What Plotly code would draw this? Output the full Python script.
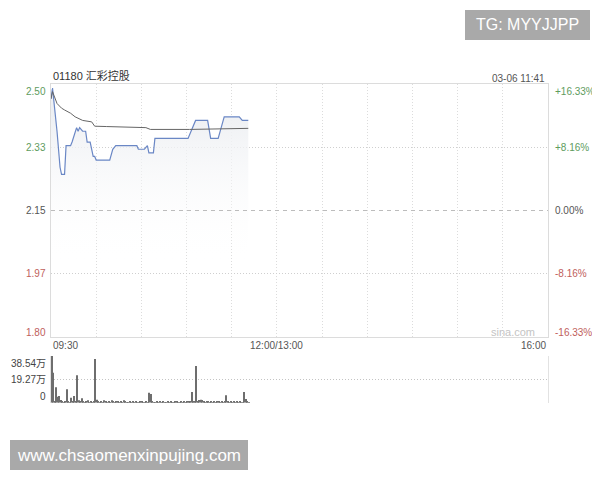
import plotly.graph_objects as go

# ---- data ----
code_name = "01180 汇彩控股"
stamp = "03-06 11:41"
prev_close = 2.15
pct_steps = [16.33, 8.16, 0.0, -8.16, -16.33]
price_labels = ["2.50", "2.33", "2.15", "1.97", "1.80"]
pct_labels = ["+16.33%", "+8.16%", "0.00%", "-8.16%", "-16.33%"]
time_labels = ["09:30", "12:00/13:00", "16:00"]

price_times = ["09:30", "09:31", "09:34", "09:36", "09:37", "09:39", "09:40", "09:43",
               "09:44", "09:46", "09:47", "09:48", "09:49", "09:51", "09:53", "09:54",
               "09:56", "09:58", "09:59", "10:00", "10:09", "10:11", "10:13", "10:27",
               "10:28", "10:32", "10:34", "10:35", "10:38", "10:39", "11:01", "11:06",
               "11:14", "11:16", "11:21", "11:23", "11:25", "11:35", "11:37", "11:41"]
price = [2.46, 2.49, 2.37, 2.27, 2.25, 2.25, 2.33, 2.33,
         2.34, 2.37, 2.38, 2.37, 2.38, 2.37, 2.37, 2.34,
         2.34, 2.30, 2.30, 2.29, 2.29, 2.32, 2.33, 2.33,
         2.32, 2.32, 2.33, 2.31, 2.31, 2.35, 2.35, 2.40,
         2.40, 2.35, 2.35, 2.38, 2.41, 2.41, 2.40, 2.40]

avg_times = ["09:30", "09:31", "09:34", "09:37", "09:39", "09:43", "09:46", "09:51",
             "09:57", "09:59", "10:07", "10:18", "10:33", "10:36", "11:02", "11:41"]
avg_price = [2.46, 2.48, 2.447, 2.434, 2.429, 2.42, 2.41, 2.40,
             2.396, 2.384, 2.383, 2.381, 2.380, 2.375, 2.375, 2.378]

# per-minute volume from 09:30, in 万 shares
volume = [38.54, 24.8, 0.8, 12.7, 5.0, 5.5, 2.2, 1.0, 0.5, 0.6,
          11.0, 0.8, 0.5, 4.0, 0.6, 5.5, 1.2, 22.6, 2.0, 0.8,
          3.6, 0.6, 0.5, 1.5, 2.0, 0.4, 0.6, 0.5, 0.8, 36.0,
          2.5, 0.6, 0.4, 1.2, 0.5, 2.0, 0.6, 0.5, 0.8, 0.4,
          2.0, 0.6, 0.5, 0.7, 1.5, 0.4, 0.6, 0.5, 2.0, 0.6,
          0.4, 0.5, 0.8, 0.4, 0.6, 0.5, 0.7, 0.4, 0.5, 0.6,
          0.8, 0.5, 0.4, 0.6, 0.5, 8.3, 7.2, 0.6, 0.5, 0.4,
          0.6, 0.5, 0.8, 0.4, 0.6, 0.5, 0.4, 0.7, 0.5, 0.6,
          0.4, 0.5, 0.8, 0.6, 0.5, 0.4, 0.6, 0.5, 0.7, 0.5,
          0.6, 1.2, 0.8, 8.8, 1.0, 0.6, 30.3, 1.0, 2.2, 2.4,
          2.2, 0.6, 0.5, 0.8, 0.6, 0.5, 1.0, 0.4, 0.6, 0.5,
          0.8, 0.6, 0.5, 0.7, 0.4, 1.0, 6.1, 0.6, 0.5, 0.8,
          0.4, 0.6, 0.5, 0.7, 0.5, 0.6, 0.4, 0.5, 8.8, 3.0,
          0.6, 0.5]
vol_max = 38.54
vol_labels = ["38.54万", "19.27万", "0"]


def session_min(hhmm):
    """minutes since 09:30 with the 12:00-13:00 lunch break folded out"""
    h, m = map(int, hhmm.split(":"))
    t = h * 60 + m - (9 * 60 + 30)
    if t > 150:
        t -= 60
    return t


px_x = [session_min(t) for t in price_times]
avg_x = [session_min(t) for t in avg_times]
vol_x = list(range(len(volume)))
levels = [prev_close * (1 + p / 100) for p in pct_steps]

W, H = 600, 480
OFF = 8  # page body margin


def fx(px):
    return (px - OFF) / W


def fy(py):
    return 1 - (py - OFF) / H


FONT = "Liberation Sans, Arial, Noto Sans CJK SC"
GREEN = "#5e9c5e"
RED = "#c0605c"
GRAY = "#555555"
label_colors = [GREEN, GREEN, GRAY, RED, RED]
DOTS = "1px,2px"

fig = go.Figure()

fig.add_trace(go.Scatter(
    x=px_x, y=price, mode="lines",
    line=dict(color="#6a87c5", width=1.2),
    fill="tozeroy",
    fillgradient=dict(type="vertical", start=2.0, stop=2.42,
                      colorscale=[[0, "rgba(255,255,255,0)"], [1, "rgba(238,240,243,1)"]]),
    xaxis="x", yaxis="y", hoverinfo="skip"
))
fig.add_trace(go.Scatter(
    x=avg_x, y=avg_price, mode="lines",
    line=dict(color="#666666", width=1),
    xaxis="x", yaxis="y", hoverinfo="skip"
))
fig.add_trace(go.Bar(
    x=vol_x, y=volume, width=0.7,
    marker=dict(color="#6e6e6e", line=dict(width=0)),
    xaxis="x2", yaxis="y2", hoverinfo="skip"
))

xdom = [fx(51), fx(548)]
fig.update_layout(
    width=W, height=H,
    margin=dict(l=0, r=0, t=0, b=0),
    paper_bgcolor="white", plot_bgcolor="white",
    showlegend=False,
    font=dict(family=FONT, size=10, color=GRAY),
    xaxis=dict(domain=xdom, range=[0, 330], anchor="y",
               tickvals=list(range(30, 330, 30)), showticklabels=False, ticks="",
               showgrid=True, gridcolor="#dcdcdc", griddash=DOTS,
               showline=True, mirror=True, linecolor="#dcdcdc", zeroline=False),
    yaxis=dict(domain=[fy(337), fy(84)], range=[levels[-1], levels[0]],
               anchor="x", tickvals=[levels[1], levels[3]], showticklabels=False,
               ticks="", showgrid=True, gridcolor="#cfcfcf", griddash=DOTS,
               showline=True, mirror=True, linecolor="#dcdcdc", zeroline=False),
    xaxis2=dict(domain=xdom, range=[-0.5, 330], anchor="y2", showticklabels=False,
                ticks="", showgrid=False, zeroline=False, showline=False),
    yaxis2=dict(domain=[fy(402.7), fy(356)], range=[0, vol_max],
                anchor="x2", tickvals=[0, vol_max / 2, vol_max], showticklabels=False,
                ticks="", showgrid=True, gridcolor="#c4c4c4", griddash=DOTS,
                showline=True, mirror=True, linecolor="#e2e2e2", zeroline=False),
)

# previous close dashed line
fig.add_shape(type="line", xref="x domain", yref="y", x0=0, x1=1,
              y0=prev_close, y1=prev_close,
              line=dict(color="#bcbcbc", width=1, dash="4px,4px"))

ann = []
n = len(levels)
for i, (lv, pl, cl, col) in enumerate(zip(levels, price_labels, pct_labels, label_colors)):
    shift = -7 if i == 0 else (5 if i == n - 1 else 0)
    ann.append(dict(x=fx(48), xref="paper", y=lv, yref="y", text=pl, showarrow=False,
                    xanchor="right", yanchor="middle", yshift=shift,
                    font=dict(color=col, size=10)))
    ann.append(dict(x=fx(553), xref="paper", y=lv, yref="y", text=cl, showarrow=False,
                    xanchor="left", yanchor="middle", yshift=shift,
                    font=dict(color=col, size=10)))

vol_levels = [vol_max, vol_max / 2, 0]
for i, (lv, vl) in enumerate(zip(vol_levels, vol_labels)):
    shift = -7 if i == 0 else (6 if i == len(vol_levels) - 1 else 0)
    ann.append(dict(x=fx(48), xref="paper", y=lv, yref="y2", text=vl, showarrow=False,
                    xanchor="right", yanchor="middle", yshift=shift,
                    font=dict(color="#444444", size=10,
                              family="Liberation Sans, Noto Sans CJK SC")))

for tx, lab, anc in zip([0, 150, 330], time_labels, ["left", "center", "right"]):
    ann.append(dict(x=tx, xref="x", y=fy(345), yref="paper", text=lab,
                    showarrow=False, xanchor=anc, yanchor="middle",
                    font=dict(color=GRAY, size=10)))

ann.append(dict(x=fx(51), xref="paper", y=fy(76), yref="paper", text=code_name,
                showarrow=False, xanchor="left", yanchor="middle",
                font=dict(color="#333333", size=11)))
ann.append(dict(x=fx(547), xref="paper", y=fy(78), yref="paper", text=stamp,
                showarrow=False, xanchor="right", yanchor="middle",
                font=dict(color=GRAY, size=10)))
ann.append(dict(x=fx(537), xref="paper", y=fy(332), yref="paper", text="sina.com",
                showarrow=False, xanchor="right", yanchor="middle",
                font=dict(color="#c4c4c4", size=11)))

# overlay watermark boxes
fig.add_shape(type="rect", xref="paper", yref="paper", x0=fx(465), x1=fx(590),
              y0=fy(40), y1=fy(10), fillcolor="#a9a9a9", line=dict(width=0))
fig.add_shape(type="rect", xref="paper", yref="paper", x0=fx(10), x1=fx(248),
              y0=fy(470), y1=fy(440), fillcolor="#a9a9a9", line=dict(width=0))
ann.append(dict(x=fx(527.5), xref="paper", y=fy(25), yref="paper", text="TG: MYYJJPP",
                showarrow=False, xanchor="center", yanchor="middle",
                font=dict(color="white", size=16)))
ann.append(dict(x=fx(129), xref="paper", y=fy(455), yref="paper",
                text="www.chsaomenxinpujing.com", showarrow=False,
                xanchor="center", yanchor="middle", font=dict(color="white", size=17)))

fig.update_layout(annotations=ann)
fig.write_html("out.html")
